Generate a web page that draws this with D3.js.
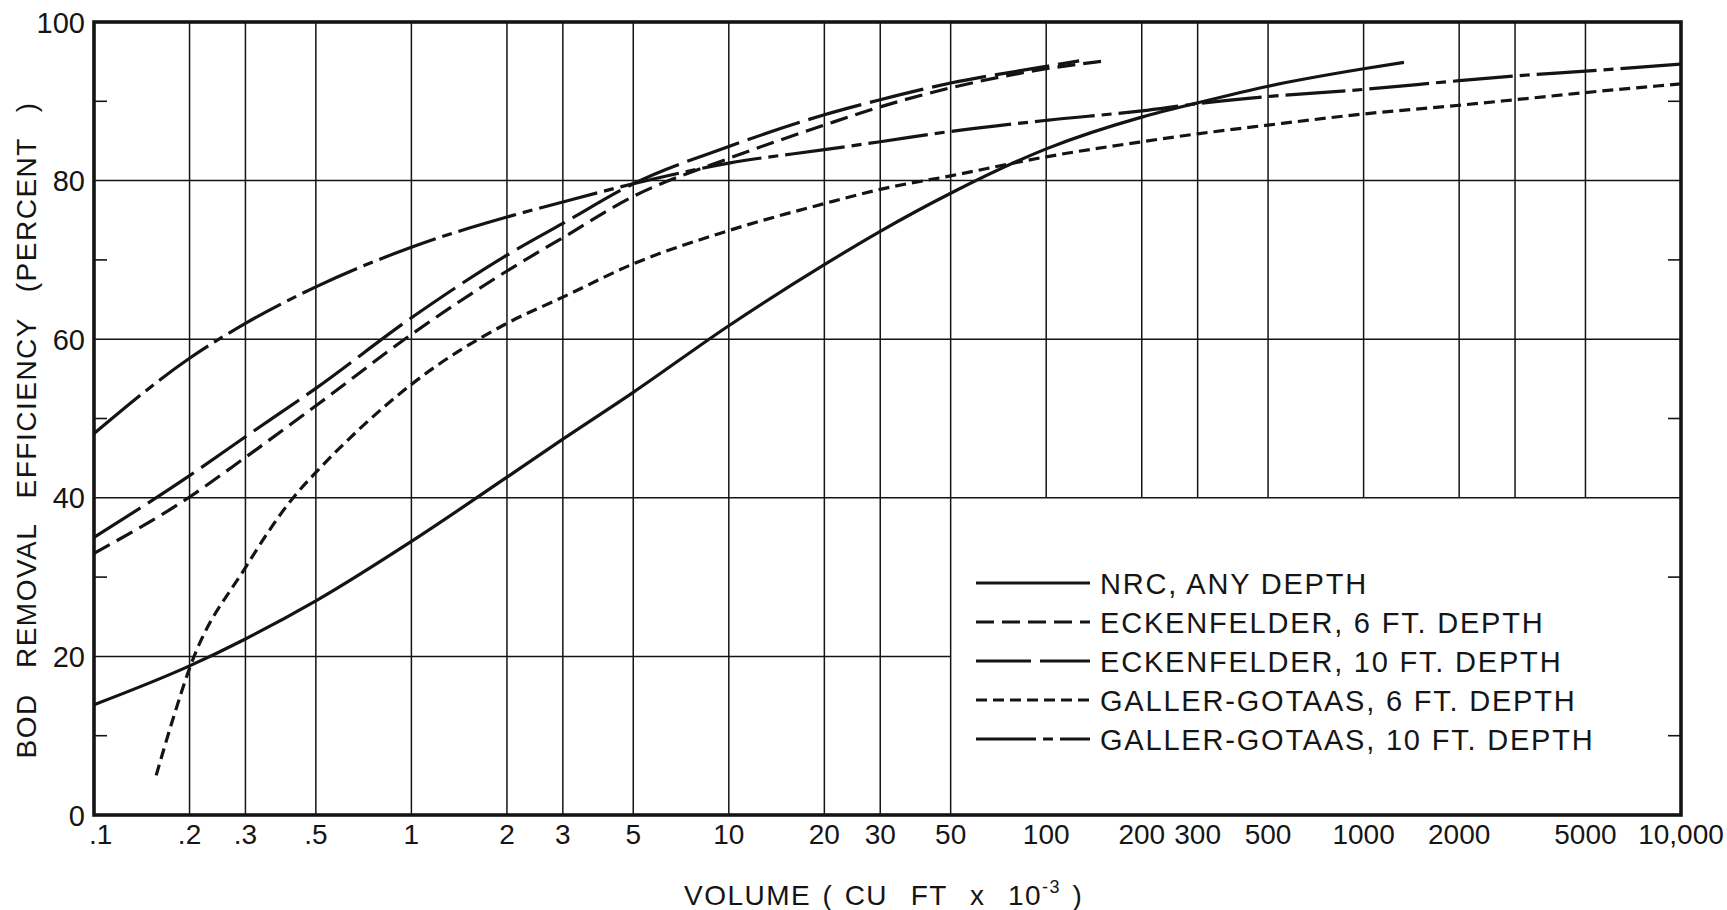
<!DOCTYPE html>
<html>
<head>
<meta charset="utf-8">
<script src="https://cdn.jsdelivr.net/npm/d3@7"></script>
<style>
  html, body { margin:0; padding:0; background:#fff; }
  svg { display:block; }
  text { font-family:"Liberation Sans", Arial, sans-serif; fill:#151515; white-space:pre; }
</style>
</head>
<body>
<svg id="chart" width="1727" height="910"></svg>
<script>
// ---------------------------------------------------------------------------
// values read off the chart : [volume (cu ft x 10^-3), BOD removal %]
// ---------------------------------------------------------------------------
var nrc = [[0.1,13.9],[0.2,18.8],[0.3,22.2],[0.5,27.0],[1,34.5],[2,42.6],[3,47.4],[5,53.3],
	[10,61.7],[20,69.4],[30,73.6],[50,78.4],[100,84.0],[200,88.0],[300,89.8],[500,91.9],[1000,94.1],[1340,94.9]];

var eck6 = [[0.1,33.0],[0.2,40.1],[0.3,45.1],[0.5,51.6],[1,60.6],[2,68.6],[3,72.8],[5,78.0],
	[10,82.8],[20,87.0],[30,89.3],[50,91.7],[100,94.1],[153,95.1]];

var eck10 = [[0.1,35.0],[0.2,42.8],[0.3,47.7],[0.5,53.8],[1,62.7],[2,70.6],[3,74.6],[5,79.6],
	[10,84.3],[20,88.3],[30,90.2],[50,92.3],[100,94.4],[127,95.1]];

var gg6 = [[0.157,5.0],[0.177,12.0],[0.2,18.5],[0.3,31.2],[0.43,40.3],[0.5,43.2],[0.7,49.0],
	[1,54.3],[2,62.0],[3,65.3],[5,69.5],[10,73.7],[20,77.1],[30,78.9],[50,80.6],[100,83.0],
	[200,84.9],[300,85.9],[500,87.0],[1000,88.4],[2000,89.5],[3000,90.2],[5000,91.1],[10000,92.2]];

var gg10 = [[0.1,48.1],[0.2,57.6],[0.3,62.0],[0.5,66.6],[1,71.6],[2,75.4],[3,77.3],[5,79.6],
	[10,82.2],[20,83.9],[30,84.9],[50,86.2],[100,87.6],[200,88.8],[300,89.7],[500,90.6],
	[1000,91.5],[2000,92.6],[3000,93.2],[5000,93.8],[10000,94.7]];

var seriesNames = ["NRC, ANY DEPTH","ECKENFELDER, 6 FT. DEPTH","ECKENFELDER, 10 FT. DEPTH",
	"GALLER-GOTAAS, 6 FT. DEPTH","GALLER-GOTAAS, 10 FT. DEPTH"];

var xTickValues = [0.1,0.2,0.3,0.5,1,2,3,5,10,20,30,50,100,200,300,500,1000,2000,5000,10000];
var xTickLabels = [".1",".2",".3",".5","1","2","3","5","10","20","30","50","100","200","300","500","1000","2000","5000","10,000"];
var xGridValues = [0.2,0.3,0.5,1,2,3,5,10,20,30,50,100,200,300,500,1000,2000,3000,5000];
var yTickValues = [0,20,40,60,80,100];
var yMinorValues = [10,30,50,70,90];

// legend box corner (in data units): blank area right of 50, below 40
var LEGEND_FROM_X = 50;
var LEGEND_TOP_Y = 40;

// ---------------------------------------------------------------------------
// layout / styles
// ---------------------------------------------------------------------------
var X0 = 94, X1 = 1681, Y0 = 815, Y1 = 22;
var INK = "#141414";
var seriesDash = ["none","18,8","55,9","11,6","60,7,10,7"];
var seriesData = [nrc, eck6, eck10, gg6, gg10];

var svg = d3.select("#chart");
svg.append("rect").attr("width",1727).attr("height",910).style("fill","#fff");

var x = d3.scaleLog().domain([0.1,10000]).range([X0,X1]);
var y = d3.scaleLinear().domain([0,100]).range([Y0,Y1]);

drawGrid();
drawCurves();
drawFrame();
drawLabels();
drawLegend();

// ---------------------------------------------------------------------------
function drawGrid(){
	var grid = svg.append("g").attr("id","grid");

	// vertical lines : the ones right of the legend edge stop on the 40 line
	grid.selectAll("line.vgrid")
		.data(xGridValues)
		.enter()
		.append("line")
		.attr("class","vgrid")
		.attr("x1",function(d){return x(d);})
		.attr("x2",function(d){return x(d);})
		.attr("y1",y(100))
		.attr("y2",function(d){return d > LEGEND_FROM_X ? y(LEGEND_TOP_Y) : y(0);})
		.style("stroke",INK)
		.style("stroke-width",1.5);

	// horizontal lines : those below the legend top stop at the legend edge
	grid.selectAll("line.hgrid")
		.data(yTickValues.filter(function(d){return d > 0 && d < 100;}))
		.enter()
		.append("line")
		.attr("class","hgrid")
		.attr("x1",x(0.1))
		.attr("x2",function(d){return d < LEGEND_TOP_Y ? x(LEGEND_FROM_X) : x(10000);})
		.attr("y1",function(d){return y(d);})
		.attr("y2",function(d){return y(d);})
		.style("stroke",INK)
		.style("stroke-width",1.5);

	// short inward ticks at the odd tens, both sides
	var _len = 13;
	yMinorValues.forEach(function(v){
		grid.append("line")
			.attr("x1",x(0.1)).attr("x2",x(0.1)+_len)
			.attr("y1",y(v)).attr("y2",y(v))
			.style("stroke",INK).style("stroke-width",1.6);
		grid.append("line")
			.attr("x1",x(10000)).attr("x2",x(10000)-_len)
			.attr("y1",y(v)).attr("y2",y(v))
			.style("stroke",INK).style("stroke-width",1.6);
	});
}

function drawCurves(){
	var line = d3.line()
		.x(function(d){return x(d[0]);})
		.y(function(d){return y(d[1]);})
		.curve(d3.curveMonotoneX);

	svg.append("g").attr("id","curves")
		.selectAll("path")
		.data(seriesData)
		.enter()
		.append("path")
		.attr("d",line)
		.style("fill","none")
		.style("stroke",INK)
		.style("stroke-width",3.2)
		.style("stroke-dasharray",function(d,i){return seriesDash[i];});
}

function drawFrame(){
	svg.append("rect")
		.attr("x",x(0.1))
		.attr("y",y(100))
		.attr("width",x(10000)-x(0.1))
		.attr("height",y(0)-y(100))
		.style("fill","none")
		.style("stroke",INK)
		.style("stroke-width",3.6);
}

function drawLabels(){
	var labels = svg.append("g").attr("id","labels");

	// y tick labels
	labels.selectAll("text.ytick")
		.data(yTickValues)
		.enter()
		.append("text")
		.attr("class","ytick")
		.text(function(d){return d;})
		.attr("x",x(0.1)-9)
		.attr("y",function(d){return y(d)+10.5;})
		.style("font-size","29px")
		.style("text-anchor","end");

	// x tick labels (the first one is pushed right, clear of the "0")
	labels.selectAll("text.xtick")
		.data(xTickValues)
		.enter()
		.append("text")
		.attr("class","xtick")
		.text(function(d,i){return xTickLabels[i];})
		.attr("x",function(d,i){return i == 0 ? x(d)-5 : x(d);})
		.attr("y",y(0)+29)
		.style("font-size","28px")
		.style("text-anchor",function(d,i){return i == 0 ? "start" : "middle";});

	// y title
	labels.append("text")
		.text("BOD REMOVAL EFFICIENCY (PERCENT )")
		.attr("transform","translate(36,430) rotate(-90)")
		.style("font-size","28px")
		.style("letter-spacing","1.5px")
		.style("word-spacing","16px")
		.style("text-anchor","middle");

	// x title with superscript exponent
	var _t = labels.append("text")
		.attr("x",684)
		.attr("y",905)
		.style("font-size","28px")
		.style("letter-spacing","1.5px")
		.style("word-spacing","2px");
	_t.append("tspan").text("VOLUME ( CU  FT  x  10");
	_t.append("tspan").attr("dy",-12).style("font-size","18px").text("-3");
	_t.append("tspan").attr("dy",12).text(" )");
}

function drawLegend(){
	var legend = svg.append("g").attr("id","legend");
	var _top = 583, _step = 39;
	var _lineX1 = 976, _lineX2 = 1090, _textX = 1100;

	legend.selectAll("g.item")
		.data(seriesNames)
		.enter()
		.append("g")
		.attr("class","item")
		.each(function(d,i){
			var _y = _top + i*_step;
			d3.select(this).append("line")
				.attr("x1",_lineX1).attr("x2",_lineX2)
				.attr("y1",_y).attr("y2",_y)
				.style("stroke",INK)
				.style("stroke-width",3.2)
				.style("stroke-dasharray",seriesDash[i]);
			d3.select(this).append("text")
				.text(d)
				.attr("x",_textX)
				.attr("y",_y+10.5)
				.style("font-size","29px")
				.style("letter-spacing","1.8px");
		});
}
</script>
</body>
</html>
